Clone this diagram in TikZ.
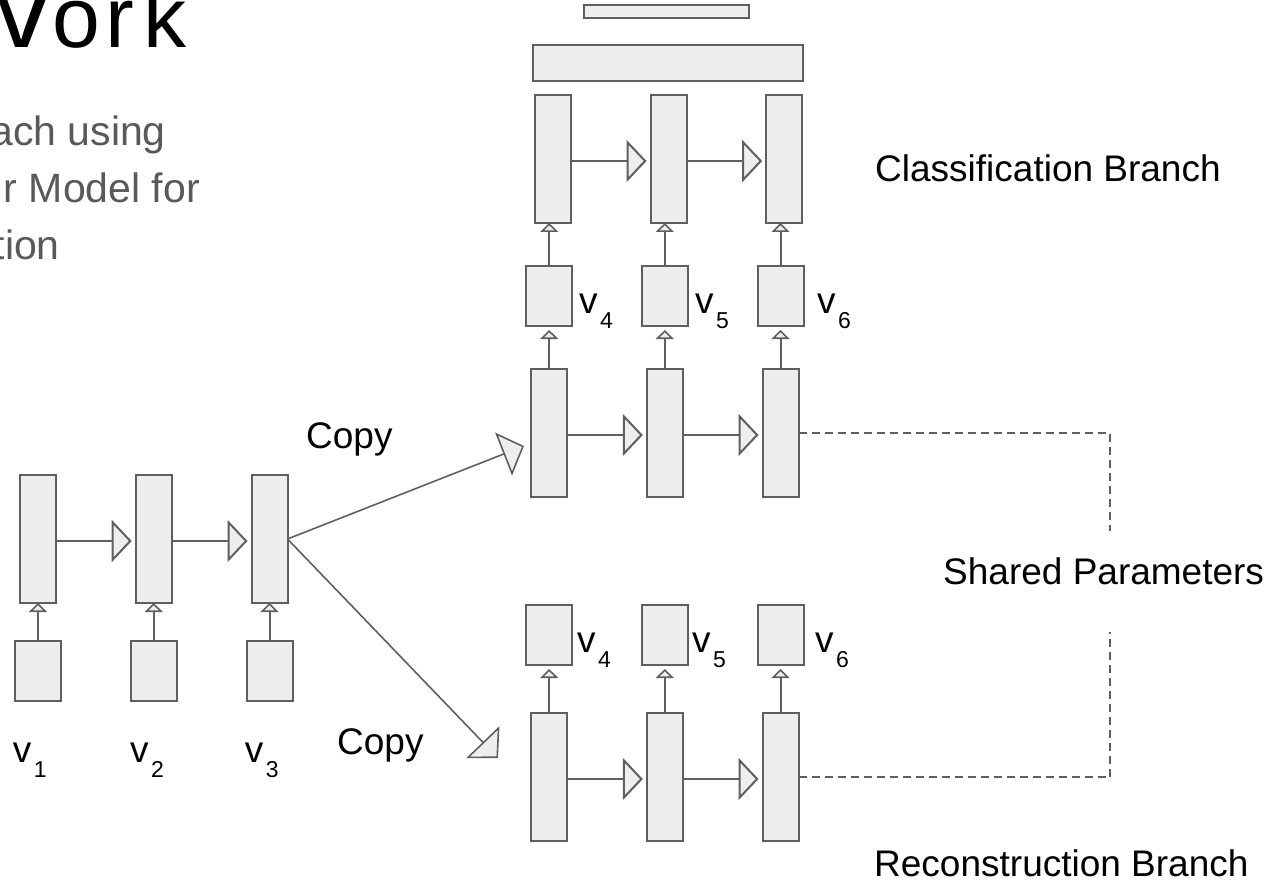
\documentclass[tikz,border=0pt]{standalone}
\usepackage{fontspec}
\setmainfont{Liberation Sans}
\usetikzlibrary{arrows.meta}
\definecolor{boxfill}{HTML}{EEEEEE}
\definecolor{strokegray}{HTML}{5F5F5F}
\definecolor{subtext}{HTML}{595959}
\newcommand{\vsub}[1]{v\kern2.5pt\raisebox{-15pt}{\fontsize{23}{23}\selectfont #1}}
\begin{document}
\begin{tikzpicture}[x=1pt,y=-1pt,
  box/.style={draw=strokegray, fill=boxfill, line width=2pt, inner sep=0pt, outer sep=0pt},
  tallbox/.style={box, minimum width=36pt, minimum height=128pt},
  inbox/.style={box, minimum width=46pt, minimum height=60pt},
  conn/.style={draw=strokegray, line width=2pt},
  harrow/.style={conn, -{Triangle[length=20pt,width=42pt,fill=boxfill]}},
  uarrow/.style={conn, -{Triangle[length=9pt,width=18pt,fill=boxfill,line width=1.6pt]}},
  carrow/.style={conn, line width=1.6pt, -{Triangle[length=22pt,width=46pt,fill=boxfill]}},
  shared/.style={draw=strokegray, line width=1.5pt, dash pattern=on 8pt off 5pt},
  lbl/.style={font=\fontsize{37}{44}\selectfont, inner sep=0pt, anchor=base west},
  graytxt/.style={font=\fontsize{41}{48}\selectfont, text=subtext, inner sep=0pt, anchor=base east},
]
\useasboundingbox (0,0) rectangle (1276,882);
\clip (0,0) rectangle (1276,882);

% title fragments
\node[font=\fontsize{86}{90}\selectfont, anchor=base west, inner sep=0pt] (title) at (-55,48) {\scalebox{1.3}[1]{W}\kern2pt o\kern5pt r\kern9pt k};
\node[graytxt] (sub1) at (166,146) {ach using};
\node[graytxt] (sub2) at (200,203) {r Model for};
\node[graytxt] (sub3) at (60,260) {tion};

% left chain
\node[tallbox] (l1) at (38,539) {};
\node[tallbox] (l2) at (153.7,539) {};
\node[tallbox] (l3) at (269.5,539) {};
\node[inbox] (i1) at (38,671) {};
\node[inbox] (i2) at (153.7,671) {};
\node[inbox] (i3) at (269.5,671) {};
\draw[uarrow] (i1) -- (l1);
\draw[uarrow] (i2) -- (l2);
\draw[uarrow] (i3) -- (l3);
\draw[harrow] ([yshift=-2pt]l1.east) -- ([xshift=-4pt,yshift=-2pt]l2.west);
\draw[harrow] ([yshift=-2pt]l2.east) -- ([xshift=-4pt,yshift=-2pt]l3.west);
\node[lbl] (lv1) at (12.7,762) {\vsub{1}};
\node[lbl] (lv2) at (130,762) {\vsub{2}};
\node[lbl] (lv3) at (244.7,762) {\vsub{3}};

% classification branch
\node[box, minimum width=165pt, minimum height=13pt] (topbar) at (666,12) {};
\node[box, minimum width=270pt, minimum height=36pt] (widebar) at (667.5,63.5) {};
\node[tallbox] (ct1) at (553,159) {};
\node[tallbox] (ct2) at (668.5,159) {};
\node[tallbox] (ct3) at (784.2,159) {};
\draw[harrow] ([yshift=-2pt]ct1.east) -- ([xshift=-4pt,yshift=-2pt]ct2.west);
\draw[harrow] ([yshift=-2pt]ct2.east) -- ([xshift=-4pt,yshift=-2pt]ct3.west);
\node[inbox] (cv4) at (549.2,296) {};
\node[inbox] (cv5) at (664.8,296) {};
\node[inbox] (cv6) at (780.5,296) {};
\draw[uarrow] (cv4.north) -- (cv4.north |- ct1.south);
\draw[uarrow] (cv5.north) -- (cv5.north |- ct2.south);
\draw[uarrow] (cv6.north) -- (cv6.north |- ct3.south);
\node[lbl] (cl4) at (579,313) {\vsub{4}};
\node[lbl] (cl5) at (695,313) {\vsub{5}};
\node[lbl] (cl6) at (817,313) {\vsub{6}};
\node[tallbox] (cm1) at (549.2,433) {};
\node[tallbox] (cm2) at (664.8,433) {};
\node[tallbox] (cm3) at (780.5,433) {};
\draw[uarrow, shorten >=4pt] (cm1) -- (cv4);
\draw[uarrow, shorten >=4pt] (cm2) -- (cv5);
\draw[uarrow, shorten >=4pt] (cm3) -- (cv6);
\draw[harrow] ([yshift=-2pt]cm1.east) -- ([xshift=-4pt,yshift=-2pt]cm2.west);
\draw[harrow] ([yshift=-2pt]cm2.east) -- ([xshift=-4pt,yshift=-2pt]cm3.west);

% reconstruction branch
\node[inbox] (rv4) at (549.2,635) {};
\node[inbox] (rv5) at (664.8,635) {};
\node[inbox] (rv6) at (780.5,635) {};
\node[lbl] (rl4) at (577,652) {\vsub{4}};
\node[lbl] (rl5) at (692,652) {\vsub{5}};
\node[lbl] (rl6) at (815,652) {\vsub{6}};
\node[tallbox] (rb1) at (549.2,777) {};
\node[tallbox] (rb2) at (664.8,777) {};
\node[tallbox] (rb3) at (780.5,777) {};
\draw[uarrow, shorten >=4pt] (rb1) -- (rv4);
\draw[uarrow, shorten >=4pt] (rb2) -- (rv5);
\draw[uarrow, shorten >=4pt] (rb3) -- (rv6);
\draw[harrow] ([yshift=-2pt]rb1.east) -- ([xshift=-4pt,yshift=-2pt]rb2.west);
\draw[harrow] ([yshift=-2pt]rb2.east) -- ([xshift=-4pt,yshift=-2pt]rb3.west);

% copy arrows
\coordinate (cpU) at (524,446);
\coordinate (cpD) at (498,758);
\draw[carrow] (l3.east) -- (cpU);
\draw[carrow] (l3.east) -- (cpD);
\node[lbl] (copy1) at (306,448) {Copy};
\node[lbl] (copy2) at (337,754) {Copy};

% shared parameters
\coordinate (sp1) at (1110,531);
\coordinate (sp2) at (1110,632);
\draw[shared] (cm3.east) -| (sp1);
\draw[shared] (rb3.east) -| (sp2);
\node[lbl] (shared) at (943,584) {Shared Parameters};

\node[lbl] (clsb) at (875,182) {Classification Branch};
\node[lbl] (recb) at (874,876) {Reconstruction Branch};
\end{tikzpicture}
\end{document}
